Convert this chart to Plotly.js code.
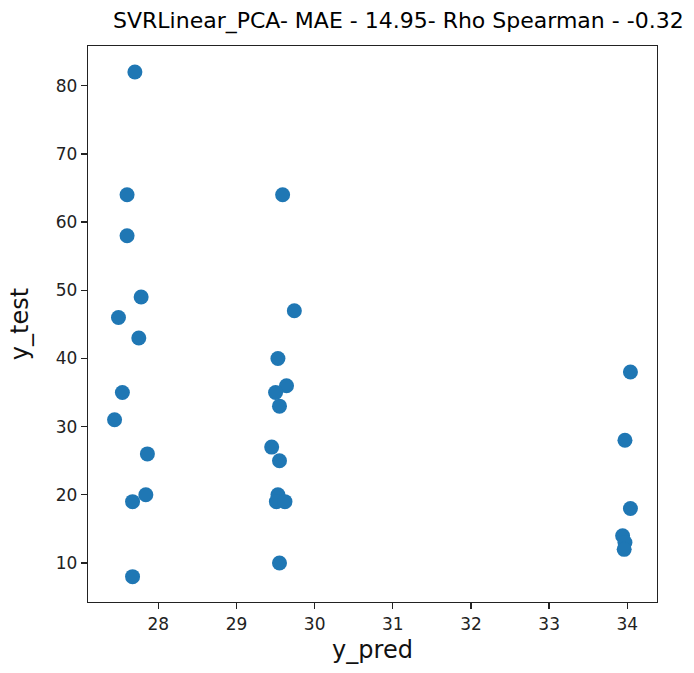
<!DOCTYPE html>
<html>
<head>
<meta charset="utf-8">
<script src="https://cdn.plot.ly/plotly-3.0.1.min.js"></script>
<style>
html,body{margin:0;padding:0;background:#fff;}
#chart{width:694px;height:673px;}
</style>
</head>
<body>
<div id="chart"></div>
<script>
// Predicted values (x axis)
var yPred = [
  27.70, 27.60, 27.60, 27.78, 27.49, 27.75, 27.54, 27.44, 27.86, 27.84, 27.67, 27.67,
  29.59, 29.74, 29.53, 29.64, 29.50, 29.55, 29.45, 29.55, 29.53, 29.51, 29.62, 29.55,
  34.04, 33.97, 34.04, 33.94, 33.97, 33.96
];
// True values (y axis)
var yTest = [
  82, 64, 58, 49, 46, 43, 35, 31, 26, 20, 19, 8,
  64, 47, 40, 36, 35, 33, 27, 25, 20, 19, 19, 10,
  38, 28, 18, 14, 13, 12
];
var xTicks = [28, 29, 30, 31, 32, 33, 34];
var yTicks = [10, 20, 30, 40, 50, 60, 70, 80];
var chartTitle = 'SVRLinear_PCA- MAE - 14.95- Rho Spearman - -0.32';

var font = 'DejaVu Sans, sans-serif';
var trace = {
  x: yPred, y: yTest, type: 'scatter', mode: 'markers',
  marker: {color: '#1f77b4', size: 15, line: {width: 0}},
  hoverinfo: 'x+y'
};
var axisCommon = {
  showgrid: false, zeroline: false, showline: true, mirror: true,
  linecolor: '#222', linewidth: 1.3, ticks: 'outside', ticklen: 6,
  tickwidth: 1.3, tickcolor: '#222',
  tickfont: {family: font, size: 17, color: '#222'}
};
var layout = {
  width: 694, height: 673,
  margin: {l: 88, r: 37, t: 46, b: 71},
  paper_bgcolor: '#fff', plot_bgcolor: '#fff',
  showlegend: false,
  title: {text: chartTitle, font: {family: font, size: 22, color: '#000'},
          x: 0.574, xanchor: 'center', y: 0.97, yanchor: 'middle'},
  xaxis: Object.assign({}, axisCommon, {
    range: [27.10, 34.38], tickvals: xTicks, ticktext: xTicks.map(String),
    title: {text: 'y_pred', font: {family: font, size: 24, color: '#111'}, standoff: 8}
  }),
  yaxis: Object.assign({}, axisCommon, {
    range: [4.28, 85.82], tickvals: yTicks, ticktext: yTicks.map(String),
    title: {text: 'y_test', font: {family: font, size: 24, color: '#111'}, standoff: 20}
  })
};
Plotly.newPlot('chart', [trace], layout, {displayModeBar: false, staticPlot: true});
</script>
</body>
</html>
